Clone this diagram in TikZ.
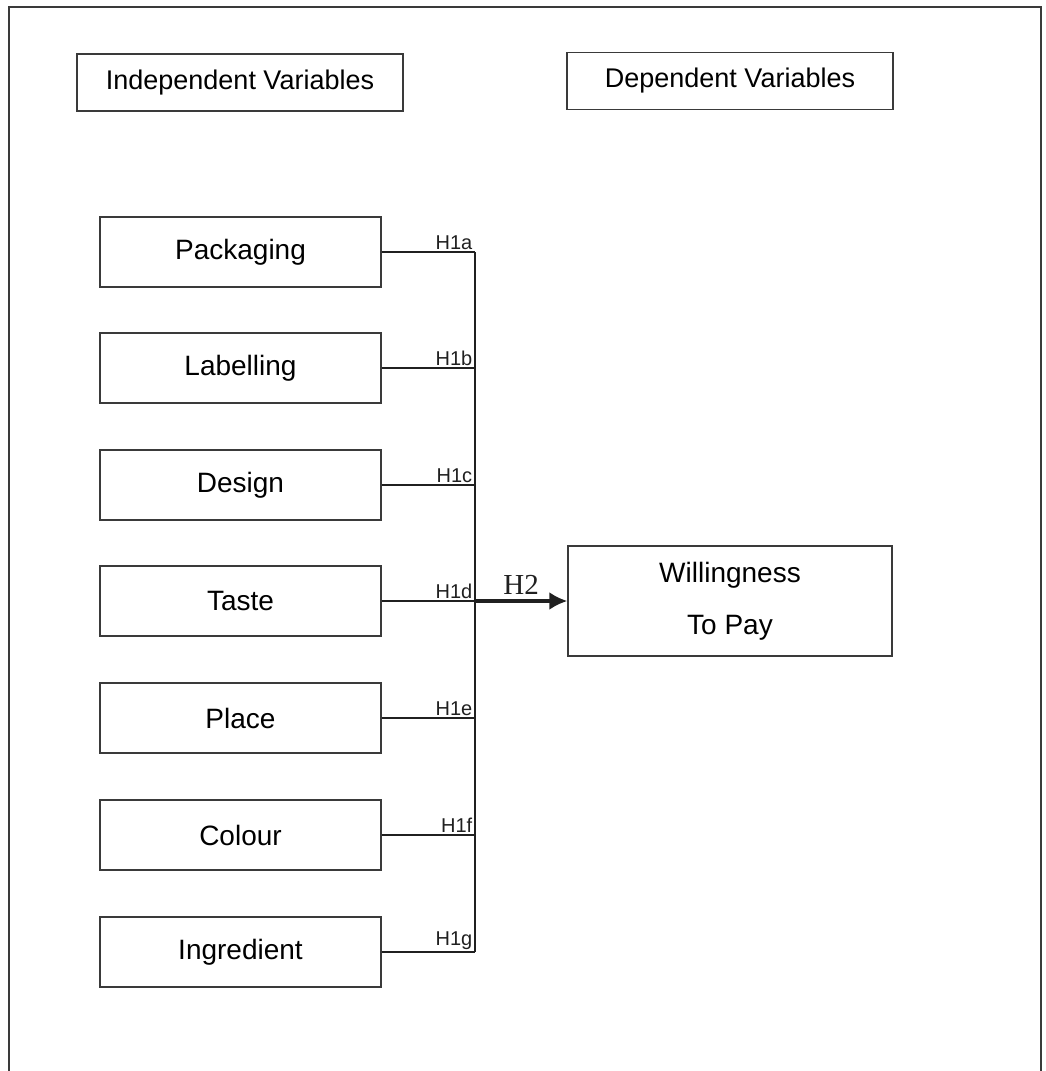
\documentclass[tikz,border=0pt]{standalone}
\usepackage{fontspec}
\setmainfont{Liberation Sans}
\newfontfamily\hfont{Liberation Serif}
\usetikzlibrary{arrows.meta,positioning}
\definecolor{Ink}{HTML}{202020}
\definecolor{Edge}{HTML}{3A3A3A}
\tikzset{
  >=Latex,
  frame/.style={draw=Edge,line width=2pt},
  head/.style={rectangle,draw=Edge,line width=1.3pt,minimum width=326pt,minimum height=57pt,inner sep=0pt,font=\fontsize{27}{32}\selectfont},
  var/.style={rectangle,draw=Edge,line width=1.3pt,minimum width=281pt,minimum height=70pt,inner sep=0pt,font=\fontsize{28}{34}\selectfont},
  dv/.style={var,minimum width=324pt,minimum height=110pt,align=center},
  link/.style={draw=Ink,line width=1.5pt},
  arr/.style={->,draw=Ink,line width=3.5pt,>={Latex[length=18pt,width=18pt]}},
  hlab/.style={anchor=south east,font=\fontsize{20}{22}\selectfont,inner sep=2pt,text=Ink},
  hbig/.style={font=\hfont\fontsize{29}{32}\selectfont,text=Ink}
}
\begin{document}
\begin{tikzpicture}[x=1pt,y=-1pt]
  \useasboundingbox (0,0) rectangle (1045,1071);
  \draw[frame] (9,1071) |- (1041,7) -- (1041,1071);
  % headings
  \node[head] (indep) at (240,82.5) {Independent Variables};
  \node[head] (dep) at (730,81) {Dependent Variables};
  % independent variables
  \node[var] (pack) at (240.5,252) {Packaging}; \node[var] (label) at (240.5,368) {Labelling};
  \node[var] (design) at (240.5,485) {Design}; \node[var] (taste) at (240.5,601) {Taste};
  \node[var] (place) at (240.5,718) {Place}; \node[var] (colour) at (240.5,835) {Colour};
  \node[var] (ingr) at (240.5,952) {Ingredient};
  % dependent variable
  \node[dv] (wtp) at (730,601) {Willingness\\[18pt]To Pay};
  \coordinate (bustop) at (475,252); \coordinate (busbot) at (475,952);
  \draw[link] (bustop) -- (busbot);
  \draw[link] (pack.east) -- (pack -| bustop) node[hlab] {H1a};
  \draw[link] (label.east) -- (label -| bustop) node[hlab] {H1b};
  \draw[link] (design.east) -- (design -| bustop) node[hlab] {H1c};
  \draw[link] (taste.east) -- (taste -| bustop) node[hlab] {H1d};
  \draw[link] (place.east) -- (place -| bustop) node[hlab] {H1e};
  \draw[link] (colour.east) -- (colour -| bustop) node[hlab] {H1f};
  \draw[link] (ingr.east) -- (ingr -| bustop) node[hlab] {H1g};
  \draw[arr] (taste -| bustop) -- node[hbig,above=1pt] {H2} (wtp.west);
\end{tikzpicture}
\end{document}
